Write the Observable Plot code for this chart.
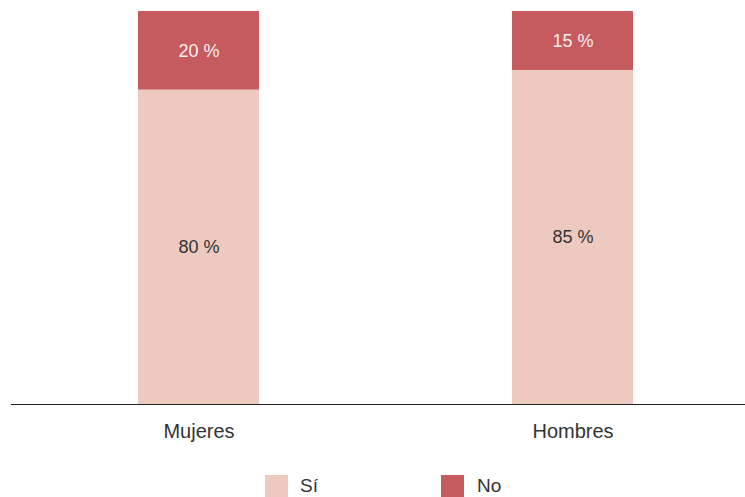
<!DOCTYPE html>
<html><head><meta charset="utf-8">
<script src="https://cdn.jsdelivr.net/npm/d3@7"></script>
<script src="https://cdn.jsdelivr.net/npm/@observablehq/plot@0.6"></script>
<style>
body{margin:0;background:#fff;font-family:"Liberation Sans",Arial,sans-serif;}
#legend{position:relative;height:37px;width:745px;font-size:19px;color:#333;}
.sw{position:absolute;width:23px;height:23px;top:15px;}
.lt{position:absolute;top:14px;line-height:24px;}
</style></head>
<body>
<div id="chart"></div>
<div id="legend"></div>
<script>
const categories = ["Mujeres", "Hombres"];
const answers = ["Sí", "No"];
const si = [80, 85];
const no = [20, 15];
const colors = ["#eec9c0", "#c65b5f"];

const data = [];
categories.forEach((c, i) => {
  data.push({grupo: c, respuesta: "Sí", valor: si[i]});
  data.push({grupo: c, respuesta: "No", valor: no[i]});
});

const chart = Plot.plot({
  width: 745,
  height: 460,
  marginTop: 11,
  marginBottom: 56,
  marginLeft: 11,
  marginRight: 0,
  style: {fontFamily: '"Liberation Sans", Arial, sans-serif', background: "#fff"},
  x: {domain: categories, range: [11.5, 759.5], paddingInner: 0.676, paddingOuter: 0.338, label: null, tickSize: 0, tickPadding: 18},
  y: {domain: [0, 100], axis: null},
  color: {domain: answers, range: colors},
  marks: [
    Plot.barY(data, {x: "grupo", y: "valor", fill: "respuesta", order: answers}),
    Plot.text(data, Plot.stackY({x: "grupo", y: "valor", z: "respuesta", order: answers,
      text: d => d.valor + " %",
      fill: d => d.respuesta === "No" ? "#fbeeee" : "#333",
      fontSize: 18})),
    Plot.ruleY([0], {stroke: "#222", strokeWidth: 1.2}),
    Plot.axisX({tickSize: 0, tickPadding: 19, fontSize: 20, fill: "#333", label: null})
  ]
});
document.getElementById("chart").append(chart);

const lg = document.getElementById("legend");
const pos = [[265, 300], [441, 477]];
answers.forEach((a, i) => {
  const s = document.createElement("div");
  s.className = "sw"; s.style.left = pos[i][0] + "px"; s.style.background = colors[i];
  const t = document.createElement("div");
  t.className = "lt"; t.style.left = pos[i][1] + "px"; t.textContent = a;
  lg.append(s, t);
});
</script>
</body></html>
